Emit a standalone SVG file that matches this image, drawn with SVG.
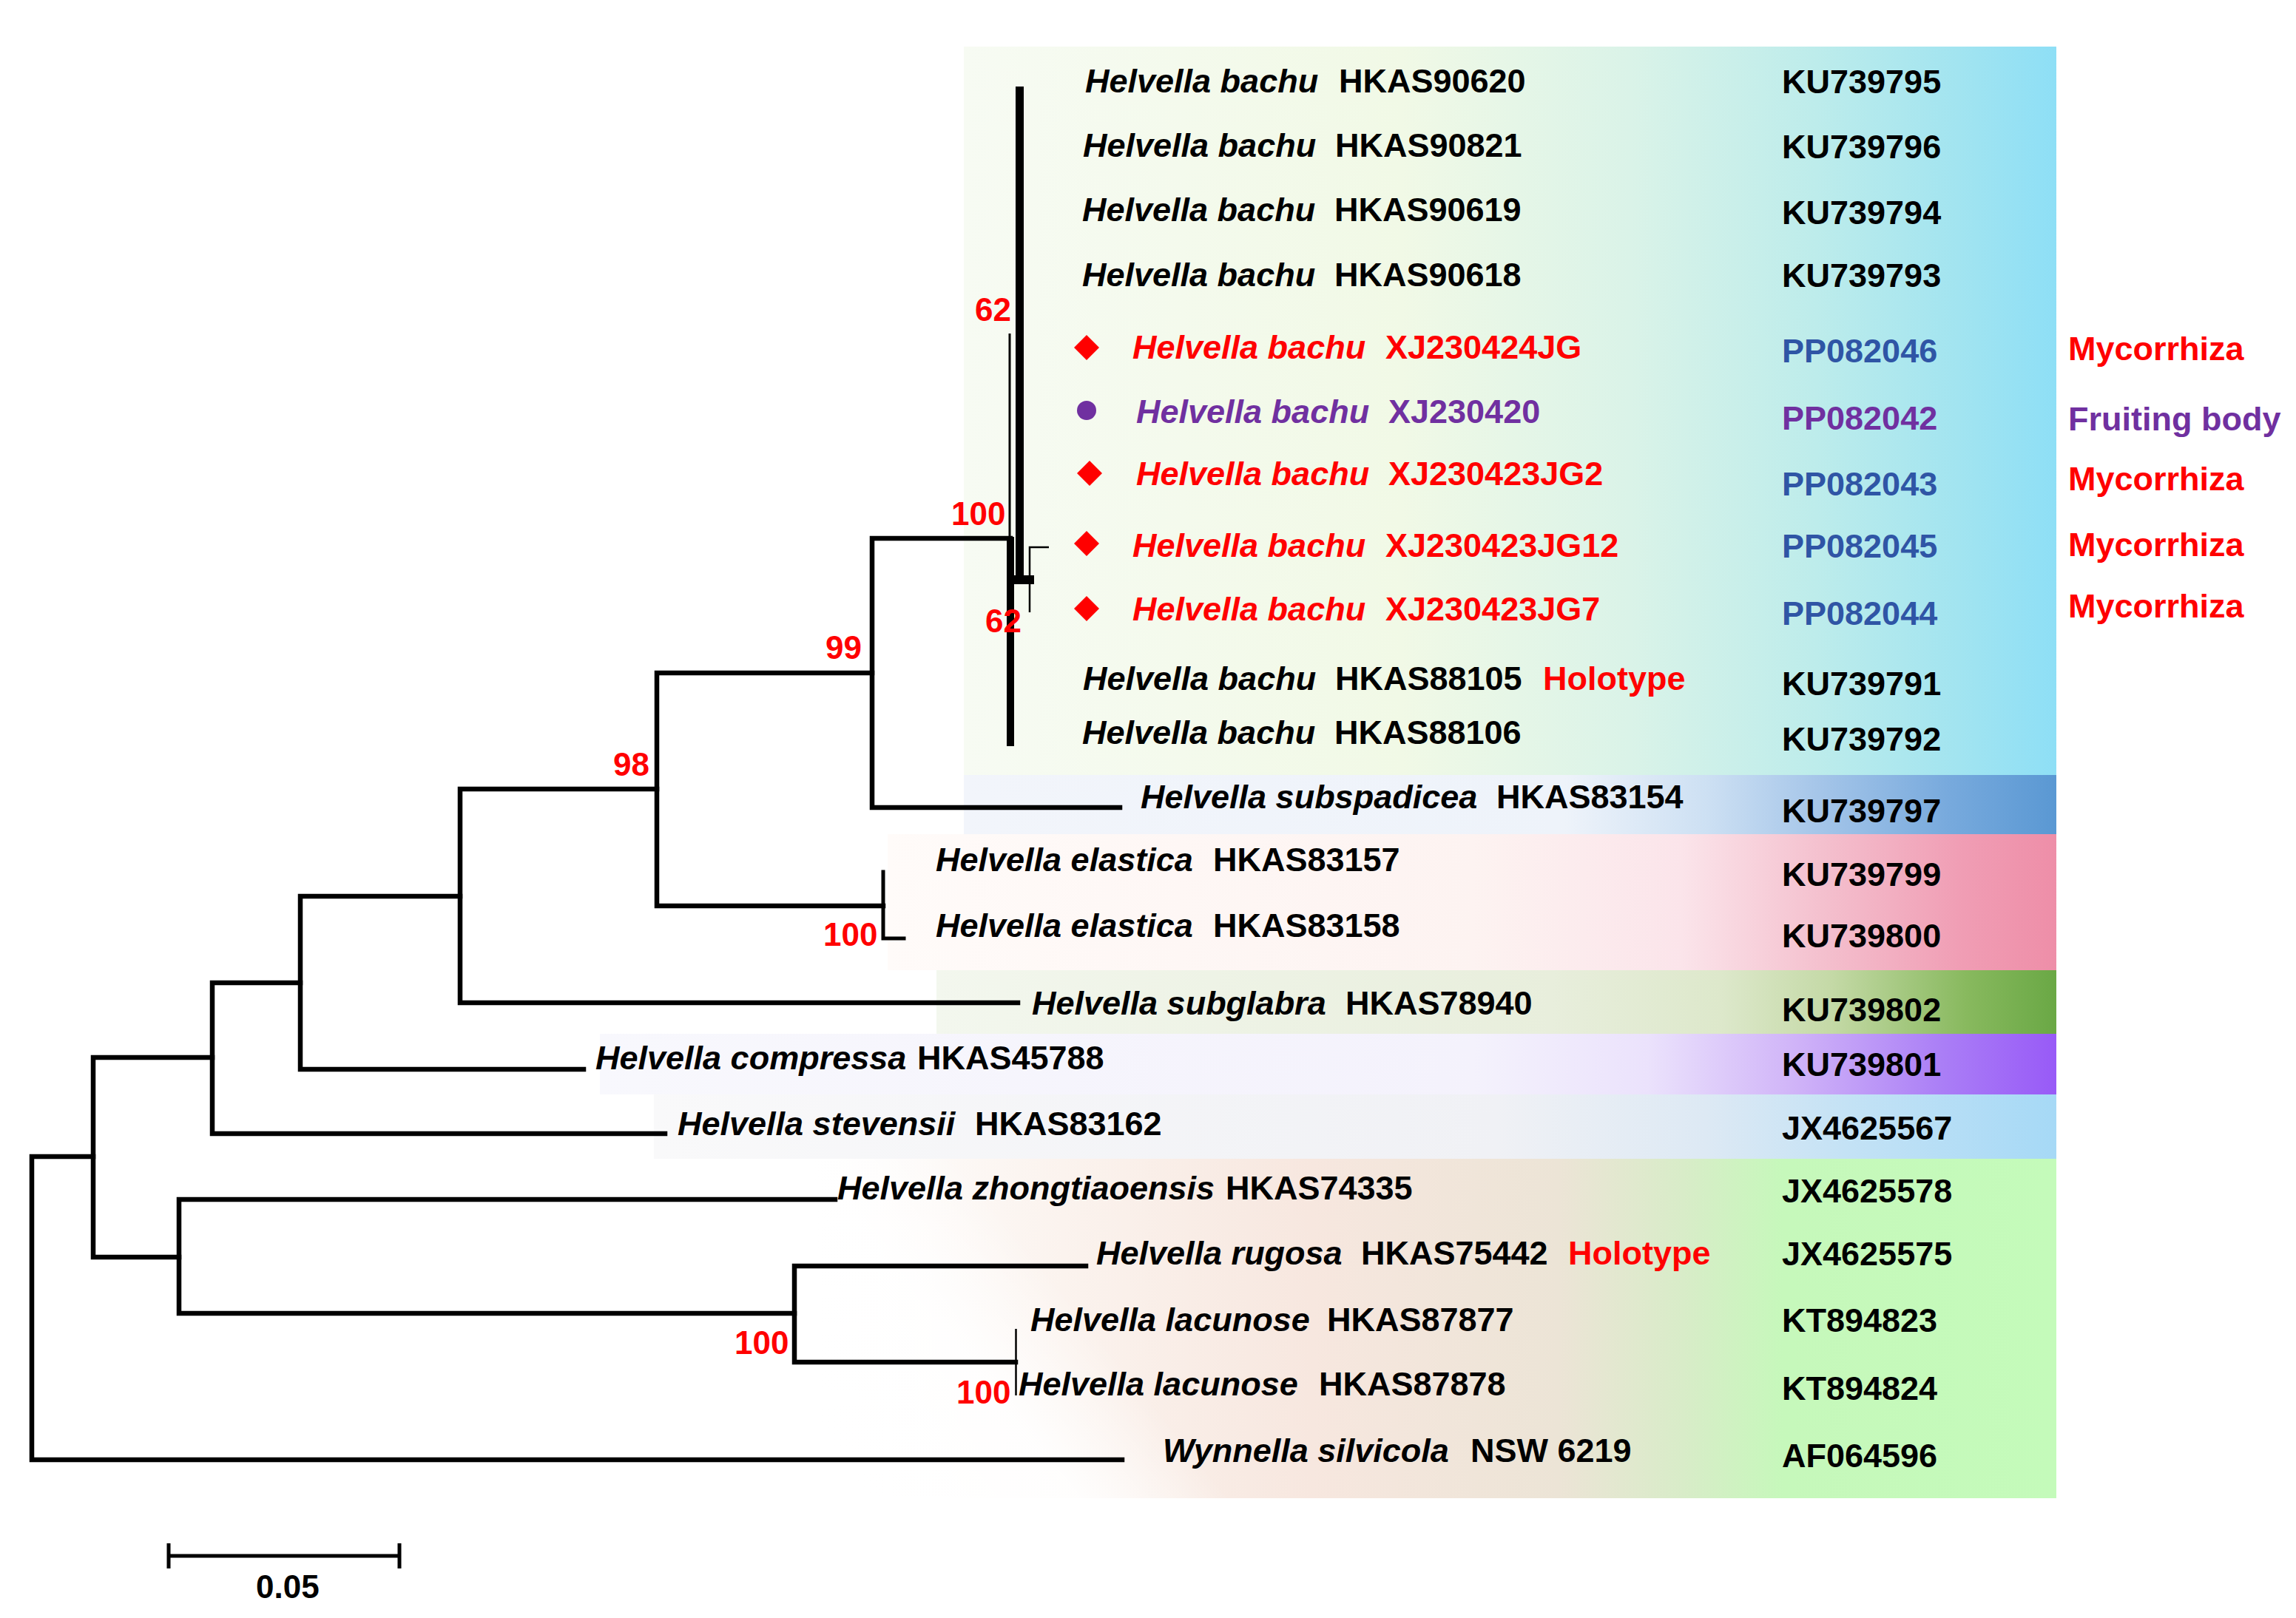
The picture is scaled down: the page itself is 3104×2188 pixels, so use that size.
<svg xmlns="http://www.w3.org/2000/svg" width="3104" height="2188" viewBox="0 0 3104 2188">
<style>
text{font-family:"Liberation Sans",Arial,sans-serif;font-weight:bold;font-size:45px;fill:#000}
.sp{font-style:italic}
.red{fill:#ff0000}
.pur{fill:#7030a0}
.blu{fill:#2f55a5}
.bs{fill:#ff0000;font-size:44px}
.br{fill:none;stroke:#000;stroke-width:6.5;stroke-linecap:square;stroke-linejoin:miter}
.thin{fill:none;stroke:#000;stroke-width:2.5}
</style>
<defs>
<linearGradient id="gTop" gradientUnits="userSpaceOnUse" x1="1303" y1="0" x2="2780" y2="0">
<stop offset="0" stop-color="#f7fbf3"/><stop offset="0.40" stop-color="#f1f9e6"/><stop offset="0.61" stop-color="#daf3e8"/><stop offset="0.78" stop-color="#bdeceb"/><stop offset="0.91" stop-color="#a2e4f0"/><stop offset="1" stop-color="#8edff6"/>
</linearGradient>
<linearGradient id="gSub" gradientUnits="userSpaceOnUse" x1="1303" y1="0" x2="2780" y2="0">
<stop offset="0" stop-color="#f2f5fb"/><stop offset="0.55" stop-color="#eef3fa"/><stop offset="0.68" stop-color="#cde0f3"/><stop offset="0.78" stop-color="#a6c6e9"/><stop offset="0.9" stop-color="#78aadd"/><stop offset="1" stop-color="#5a98d3"/>
</linearGradient>
<linearGradient id="gEla" gradientUnits="userSpaceOnUse" x1="1200" y1="0" x2="2780" y2="0">
<stop offset="0" stop-color="#fffbf9"/><stop offset="0.5" stop-color="#fdf3f1"/><stop offset="0.68" stop-color="#fbe4ea"/><stop offset="0.8" stop-color="#f4c0ce"/><stop offset="0.92" stop-color="#f09db4"/><stop offset="1" stop-color="#ee8ea8"/>
</linearGradient>
<linearGradient id="gGla" gradientUnits="userSpaceOnUse" x1="1266" y1="0" x2="2780" y2="0">
<stop offset="0" stop-color="#f3f7ee"/><stop offset="0.55" stop-color="#e8eedc"/><stop offset="0.7" stop-color="#dde8cb"/><stop offset="0.8" stop-color="#c4d9a6"/><stop offset="0.92" stop-color="#88b95e"/><stop offset="1" stop-color="#6aa845"/>
</linearGradient>
<linearGradient id="gCom" gradientUnits="userSpaceOnUse" x1="811" y1="0" x2="2780" y2="0">
<stop offset="0" stop-color="#f8f8fd"/><stop offset="0.6" stop-color="#f4f2fc"/><stop offset="0.72" stop-color="#ebe2fc"/><stop offset="0.82" stop-color="#d0b4f8"/><stop offset="0.92" stop-color="#ab7ff6"/><stop offset="1" stop-color="#985af7"/>
</linearGradient>
<linearGradient id="gSte" gradientUnits="userSpaceOnUse" x1="884" y1="0" x2="2780" y2="0">
<stop offset="0" stop-color="#f9f9fa"/><stop offset="0.6" stop-color="#f0f1f5"/><stop offset="0.75" stop-color="#dde9f4"/><stop offset="0.85" stop-color="#c4e2f5"/><stop offset="1" stop-color="#a6d9f6"/>
</linearGradient>
<linearGradient id="gBot" gradientUnits="userSpaceOnUse" x1="1100" y1="0" x2="2780" y2="0">
<stop offset="0" stop-color="#ffffff"/><stop offset="0.2" stop-color="#fbf3ee"/><stop offset="0.4" stop-color="#f7e7df"/><stop offset="0.6" stop-color="#ece4d6"/><stop offset="0.7" stop-color="#d8ecc8"/><stop offset="0.78" stop-color="#c6f8bb"/><stop offset="1" stop-color="#c4fbba"/>
</linearGradient>
<linearGradient id="gFade" gradientUnits="userSpaceOnUse" x1="1150" y1="2000" x2="1650" y2="1600">
<stop offset="0" stop-color="#fff" stop-opacity="1"/><stop offset="0.35" stop-color="#fff" stop-opacity="0.9"/><stop offset="0.6" stop-color="#fff" stop-opacity="0"/>
</linearGradient>
<path id="dia" d="M0,-17 L17,0 L0,17 L-17,0 Z" fill="#ff0000"/>
</defs>
<rect width="3104" height="2188" fill="#fff"/>
<g id="background">
<rect x="1303" y="63" width="1477" height="985" fill="url(#gTop)"/>
<rect x="1303" y="1048" width="1477" height="80" fill="url(#gSub)"/>
<rect x="1200" y="1128" width="1580" height="184" fill="url(#gEla)"/>
<rect x="1266" y="1312" width="1514" height="86" fill="url(#gGla)"/>
<rect x="811" y="1398" width="1969" height="82" fill="url(#gCom)"/>
<rect x="884" y="1480" width="1896" height="87" fill="url(#gSte)"/>
<rect x="1100" y="1567" width="1680" height="459" fill="url(#gBot)"/>
<rect x="1100" y="1567" width="700" height="459" fill="url(#gFade)"/>
</g>
<g id="connectors">
<path class="br" d="M126,1564 H43 V1974 H1517"/>
<path class="br" d="M287,1430 H126 V1700 H242"/>
<path class="br" d="M406,1329 H287 V1533 H899"/>
<path class="br" d="M622,1212 H406 V1446 H789"/>
<path class="br" d="M888,1067 H622 V1356 H1376"/>
<path class="br" d="M1179,910 H888 V1225 H1194"/>
<path class="br" d="M1366,728 H1179 V1092 H1514"/>
<path class="br" style="stroke-width:5" d="M1194,1179 V1269 H1222"/>
<path class="br" d="M1129,1622 H242 V1776 H1074"/>
<path class="br" d="M1468,1712 H1074 V1842 H1373"/>
<path class="thin" d="M1373.5,1797 V1887"/>
<rect x="1373" y="117" width="11" height="673" fill="#000"/>
<rect x="1361" y="726" width="10" height="283" fill="#000"/>
<path class="thin" style="stroke-width:3" d="M1365,451 V728"/>
<rect x="1370" y="778" width="28" height="12" fill="#000"/>
<path class="thin" d="M1418,740 H1392 V828"/>
</g>
<g id="support">
<text class="bs" x="1318" y="434">62</text>
<text class="bs" x="1286" y="710">100</text>
<text class="bs" x="1332" y="855">62</text>
<text class="bs" x="1116" y="891">99</text>
<text class="bs" x="829" y="1049">98</text>
<text class="bs" x="1113" y="1279">100</text>
<text class="bs" x="993" y="1831">100</text>
<text class="bs" x="1293" y="1898">100</text>
</g>
<g id="t-HKAS90620"><text class="sp" x="1467" y="125">Helvella bachu</text><text x="1810" y="125">HKAS90620</text><text x="2409" y="126">KU739795</text></g>
<g id="t-HKAS90821"><text class="sp" x="1464" y="212">Helvella bachu</text><text x="1805" y="212">HKAS90821</text><text x="2409" y="214">KU739796</text></g>
<g id="t-HKAS90619"><text class="sp" x="1463" y="299">Helvella bachu</text><text x="1804" y="299">HKAS90619</text><text x="2409" y="303">KU739794</text></g>
<g id="t-HKAS90618"><text class="sp" x="1463" y="387">Helvella bachu</text><text x="1804" y="387">HKAS90618</text><text x="2409" y="388">KU739793</text></g>
<g id="t-XJ230424JG"><use href="#dia" x="1469" y="470"/><text class="sp red" x="1531" y="485">Helvella bachu</text><text class="red" x="1873" y="485">XJ230424JG</text><text class="blu" x="2409" y="490">PP082046</text><text class="red" x="2796" y="487">Mycorrhiza</text></g>
<g id="t-XJ230420"><circle cx="1469" cy="555" r="13" fill="#7030a0"/><text class="sp pur" x="1536" y="572">Helvella bachu</text><text class="pur" x="1877" y="572">XJ230420</text><text class="pur" x="2409" y="581">PP082042</text><text class="pur" x="2796" y="582">Fruiting body</text></g>
<g id="t-XJ230423JG2"><use href="#dia" x="1473" y="640"/><text class="sp red" x="1536" y="656">Helvella bachu</text><text class="red" x="1877" y="656">XJ230423JG2</text><text class="blu" x="2409" y="670">PP082043</text><text class="red" x="2796" y="663">Mycorrhiza</text></g>
<g id="t-XJ230423JG12"><use href="#dia" x="1469" y="735"/><text class="sp red" x="1531" y="753">Helvella bachu</text><text class="red" x="1873" y="753">XJ230423JG12</text><text class="blu" x="2409" y="754">PP082045</text><text class="red" x="2796" y="752">Mycorrhiza</text></g>
<g id="t-XJ230423JG7"><use href="#dia" x="1469" y="823"/><text class="sp red" x="1531" y="839">Helvella bachu</text><text class="red" x="1873" y="839">XJ230423JG7</text><text class="blu" x="2409" y="845">PP082044</text><text class="red" x="2796" y="835">Mycorrhiza</text></g>
<g id="t-HKAS88105"><text class="sp" x="1464" y="933">Helvella bachu</text><text x="1805" y="933">HKAS88105</text><text class="red" x="2086" y="933">Holotype</text><text x="2409" y="940">KU739791</text></g>
<g id="t-HKAS88106"><text class="sp" x="1463" y="1006">Helvella bachu</text><text x="1804" y="1006">HKAS88106</text><text x="2409" y="1015">KU739792</text></g>
<g id="t-HKAS83154"><text class="sp" x="1542" y="1093">Helvella subspadicea</text><text x="2023" y="1093">HKAS83154</text><text x="2409" y="1112">KU739797</text></g>
<g id="t-HKAS83157"><text class="sp" x="1265" y="1178">Helvella elastica</text><text x="1640" y="1178">HKAS83157</text><text x="2409" y="1198">KU739799</text></g>
<g id="t-HKAS83158"><text class="sp" x="1265" y="1267">Helvella elastica</text><text x="1640" y="1267">HKAS83158</text><text x="2409" y="1281">KU739800</text></g>
<g id="t-HKAS78940"><text class="sp" x="1395" y="1372">Helvella subglabra</text><text x="1819" y="1372">HKAS78940</text><text x="2409" y="1381">KU739802</text></g>
<g id="t-HKAS45788"><text class="sp" x="805" y="1446">Helvella compressa</text><text x="1240" y="1446">HKAS45788</text><text x="2409" y="1455">KU739801</text></g>
<g id="t-HKAS83162"><text class="sp" x="916" y="1535">Helvella stevensii</text><text x="1318" y="1535">HKAS83162</text><text x="2409" y="1541">JX4625567</text></g>
<g id="t-HKAS74335"><text class="sp" x="1132" y="1622">Helvella zhongtiaoensis</text><text x="1657" y="1622">HKAS74335</text><text x="2409" y="1626">JX4625578</text></g>
<g id="t-HKAS75442"><text class="sp" x="1482" y="1710">Helvella rugosa</text><text x="1840" y="1710">HKAS75442</text><text class="red" x="2120" y="1710">Holotype</text><text x="2409" y="1711">JX4625575</text></g>
<g id="t-HKAS87877"><text class="sp" x="1393" y="1800">Helvella lacunose</text><text x="1794" y="1800">HKAS87877</text><text x="2409" y="1801">KT894823</text></g>
<g id="t-HKAS87878"><text class="sp" x="1377" y="1887">Helvella lacunose</text><text x="1783" y="1887">HKAS87878</text><text x="2409" y="1893">KT894824</text></g>
<g id="t-NSW6219"><text class="sp" x="1572" y="1977">Wynnella silvicola</text><text x="1988" y="1977">NSW 6219</text><text x="2409" y="1984">AF064596</text></g>
<g id="scalebar">
<path fill="none" stroke="#000" stroke-width="5" d="M228,2104 H540 M228,2087 V2121 M540,2087 V2121"/>
<text x="346" y="2161" style="font-size:44px">0.05</text>
</g>
</svg>
